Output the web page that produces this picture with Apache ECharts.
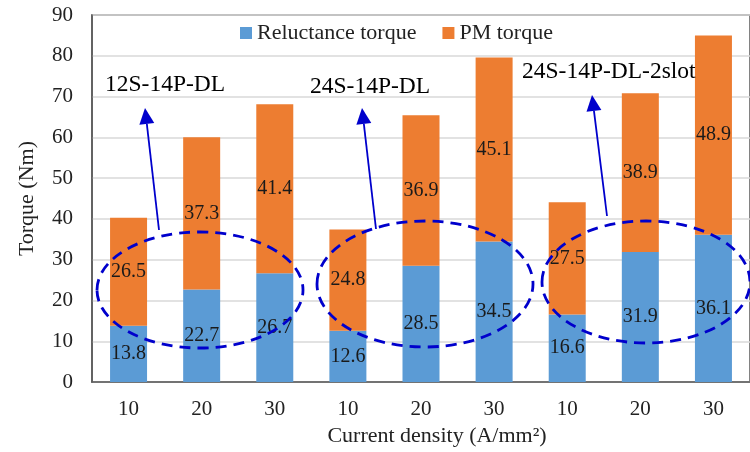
<!DOCTYPE html>
<html>
<head>
<meta charset="utf-8">
<script src="https://cdn.jsdelivr.net/npm/echarts@6/dist/echarts.min.js"></script>
<style>
  html, body { margin: 0; padding: 0; background: #fff; }
  #main { width: 750px; height: 452px; }
</style>
</head>
<body>
<div id="main"></div>
<script>
var categories = ['10', '20', '30', '10', '20', '30', '10', '20', '30'];
var reluctance = [13.8, 22.7, 26.7, 12.6, 28.5, 34.5, 16.6, 31.9, 36.1];
var pmTorque = [26.5, 37.3, 41.4, 24.8, 36.9, 45.1, 27.5, 38.9, 48.9];
var seriesNames = ['Reluctance torque', 'PM torque'];
var groupNames = ['12S-14P-DL', '24S-14P-DL', '24S-14P-DL-2slot'];

var serif = '"Liberation Serif", "Times New Roman", serif';
var blue = '#0000cc';

// annotation layout (pixels)
var notes = [
    { text: groupNames[0], tx: 105, ty: 85, ell: [200, 290, 103, 58], arr: [159, 230, 145, 108] },
    { text: groupNames[1], tx: 310, ty: 87, ell: [425, 284, 108, 63], arr: [376, 229, 362, 108] },
    { text: groupNames[2], tx: 522, ty: 72, ell: [646, 282, 104, 61], arr: [607, 216, 592, 95] }
];

function arrowParts(x1, y1, x2, y2) {
    var dx = x2 - x1, dy = y2 - y1;
    var len = Math.sqrt(dx * dx + dy * dy);
    var ux = dx / len, uy = dy / len;
    var px = -uy, py = ux;
    var hl = 16, hw = 7.5;
    var bx = x2 - ux * hl, by = y2 - uy * hl;
    return [
        {
            type: 'line', z: 100,
            shape: { x1: x1, y1: y1, x2: bx, y2: by },
            style: { stroke: blue, lineWidth: 1.8 }
        },
        {
            type: 'polygon', z: 100,
            shape: { points: [[x2, y2], [bx + px * hw, by + py * hw], [bx - px * hw, by - py * hw]] },
            style: { fill: blue }
        }
    ];
}

var graphic = [];
notes.forEach(function(n) {
    graphic.push({
        type: 'ellipse', z: 100,
        shape: { cx: n.ell[0], cy: n.ell[1], rx: n.ell[2], ry: n.ell[3] },
        style: { fill: null, stroke: blue, lineWidth: 2.8, lineDash: [11, 7] }
    });
    graphic = graphic.concat(arrowParts(n.arr[0], n.arr[1], n.arr[2], n.arr[3]));
    graphic.push({
        type: 'text', z: 100,
        x: n.tx, y: n.ty,
        style: {
            text: n.text, fill: '#000',
            font: '23.5px ' + serif,
            textVerticalAlign: 'middle', verticalAlign: 'middle'
        }
    });
});

var myChart = echarts.init(document.getElementById('main'));

var labelStyle = {
    show: true,
    position: 'inside',
    color: '#1a1a1a',
    fontFamily: serif,
    fontSize: 20,
    formatter: function(p) { return p.value.toFixed(1); }
};

var option = {
    backgroundColor: '#fff',
    animation: false,
    textStyle: { fontFamily: serif },
    legend: {
        left: 235,
        top: 17,
        itemWidth: 12,
        itemHeight: 12,
        itemGap: 26,
        icon: 'rect',
        textStyle: { fontFamily: serif, fontSize: 22, color: '#222' },
        data: seriesNames
    },
    grid: {
        show: true,
        left: 92,
        top: 15,
        width: 667,
        height: 369,
        borderColor: '#595959',
        borderWidth: 1.5,
        containLabel: false
    },
    xAxis: {
        type: 'category',
        data: categories,
        axisTick: { show: false },
        axisLine: { lineStyle: { color: '#595959', width: 1.5 } },
        axisLabel: { fontFamily: serif, fontSize: 21, color: '#222', margin: 17 },
        name: 'Current density (A/mm²)',
        nameLocation: 'middle',
        nameGap: 41,
        nameTextStyle: { fontFamily: serif, fontSize: 22, color: '#222', padding: [0, 0, 0, 32] }
    },
    yAxis: {
        type: 'value',
        min: 0,
        max: 90,
        interval: 10,
        axisLine: { show: true, lineStyle: { color: '#595959', width: 1.5 } },
        axisTick: { show: false },
        splitLine: { lineStyle: { color: '#d9d9d9', width: 1.5 } },
        axisLabel: { fontFamily: serif, fontSize: 21, color: '#222', margin: 19 },
        name: 'Torque (Nm)',
        nameLocation: 'middle',
        nameGap: 54,
        nameTextStyle: { fontFamily: serif, fontSize: 22, color: '#222' }
    },
    series: [
        {
            name: seriesNames[0],
            type: 'bar',
            stack: 'total',
            barWidth: 37,
            itemStyle: { color: '#5b9bd5' },
            label: labelStyle,
            data: reluctance
        },
        {
            name: seriesNames[1],
            type: 'bar',
            stack: 'total',
            barWidth: 37,
            itemStyle: { color: '#ed7d31' },
            label: labelStyle,
            data: pmTorque
        }
    ],
    graphic: graphic
};

myChart.setOption(option);
</script>
</body>
</html>
